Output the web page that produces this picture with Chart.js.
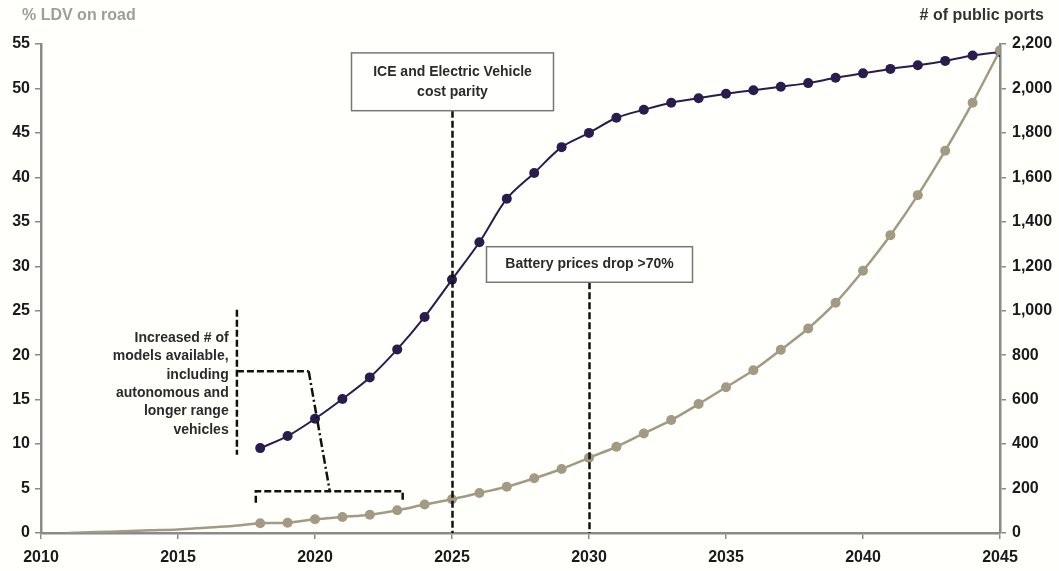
<!DOCTYPE html>
<html>
<head>
<meta charset="utf-8">
<script src="https://cdn.jsdelivr.net/npm/chart.js@4.4.1/dist/chart.umd.min.js"></script>
<style>
  html, body { margin: 0; padding: 0; background: #fffffb; }
  #wrap { position: relative; width: 1059px; height: 571px; }
</style>
</head>
<body>
<div id="wrap"><canvas id="evChart"></canvas></div>
<script>
// EV share of light-duty vehicles on road (%), left axis
const shareYears = [2011, 2012, 2013, 2014, 2015, 2016, 2017, 2018, 2019, 2020, 2021, 2022, 2023, 2024, 2025, 2026, 2027, 2028,
  2029, 2030, 2031, 2032, 2033, 2034, 2035, 2036, 2037, 2038, 2039, 2040, 2041, 2042, 2043, 2044, 2045];
const shareValues = [0, 0.1, 0.2, 0.3, 0.4, 0.6, 0.8, 1.1, 1.15, 1.55, 1.8, 2.05, 2.55, 3.2, 3.8, 4.5, 5.2, 6.15,
  7.2, 8.45, 9.7, 11.2, 12.7, 14.5, 16.4, 18.3, 20.6, 23.0, 25.9, 29.5, 33.5, 38.0, 43.0, 48.4, 54.3];

// public charging ports, right axis
const portYears = [2018, 2019, 2020, 2021, 2022, 2023, 2024, 2025, 2026, 2027, 2028, 2029, 2030, 2031,
  2032, 2033, 2034, 2035, 2036, 2037, 2038, 2039, 2040, 2041, 2042, 2043, 2044, 2045];
const portValues = [382, 436, 514, 603, 700, 826, 972, 1140, 1308, 1504, 1620, 1736, 1800, 1868,
  1904, 1936, 1956, 1976, 1992, 2008, 2024, 2048, 2068, 2088, 2104, 2124, 2148, 2164];

const xTicks = [2010, 2045, 5];
const leftTicks = [0, 55, 5];
const rightTicks = [0, 2200, 200];

const TAN = '#a39a84';
const NAVY = '#2a1c4c';
const AXIS = '#8a8a8a';
const FONT = '"Liberation Sans", Arial, sans-serif';

// annotation boxes / dashed markers (year, left-axis value)
const notes = [
  { year: 2025, top: 54.0, bottom: 47.5, half: 101, lines: ['ICE and Electric Vehicle', 'cost parity'] },
  { year: 2030, top: 32.2, bottom: 28.2, half: 103, lines: ['Battery prices drop >70%'] }
];
const modelText = ['Increased # of', 'models available,', 'including', 'autonomous and', 'longer range', 'vehicles'];

const annotations = {
  id: 'annotations',
  afterDatasetsDraw(chart) {
    const { ctx, scales } = chart;
    const x = scales.x, y = scales.y;
    ctx.save();
    ctx.font = 'bold 14px ' + FONT;
    ctx.textAlign = 'center';
    ctx.textBaseline = 'middle';

    notes.forEach(n => {
      const cx = Math.round(x.getPixelForValue(n.year)) + 0.5;
      const top = y.getPixelForValue(n.top);
      const bot = y.getPixelForValue(n.bottom);
      // dashed drop line
      ctx.strokeStyle = '#111';
      ctx.lineWidth = 2.5;
      ctx.setLineDash([7, 3]);
      ctx.beginPath();
      ctx.moveTo(cx, bot);
      ctx.lineTo(cx, y.getPixelForValue(0));
      ctx.stroke();
      // box
      ctx.setLineDash([]);
      ctx.fillStyle = '#fffffd';
      ctx.strokeStyle = '#777';
      ctx.lineWidth = 1.5;
      ctx.fillRect(cx - n.half, top, n.half * 2, bot - top);
      ctx.strokeRect(cx - n.half, top, n.half * 2, bot - top);
      ctx.fillStyle = '#2b2b2b';
      const mid = (top + bot) / 2;
      const lh = 20;
      n.lines.forEach((t, i) => {
        ctx.fillText(t, cx, mid + (i - (n.lines.length - 1) / 2) * lh);
      });
    });

    // left text block
    ctx.textAlign = 'right';
    ctx.fillStyle = '#2b2b2b';
    const tx = x.getPixelForValue(2016.85);
    const ty = y.getPixelForValue(21.9);
    modelText.forEach((t, i) => ctx.fillText(t, tx, ty + i * 18.3));

    // bracket lines
    const px = (yr) => x.getPixelForValue(yr);
    const py = (v) => y.getPixelForValue(v);
    ctx.strokeStyle = '#111';
    ctx.lineWidth = 2.5;
    ctx.setLineDash([7, 3]);
    ctx.beginPath();
    ctx.moveTo(px(2017.15), py(25.1));
    ctx.lineTo(px(2017.15), py(8.8));
    ctx.moveTo(px(2017.15), py(18.2));
    ctx.lineTo(px(2019.77), py(18.2));
    ctx.stroke();
    ctx.setLineDash([9, 3, 2, 3]);
    ctx.beginPath();
    ctx.moveTo(px(2019.77), py(18.2));
    ctx.lineTo(px(2020.54), py(4.7));
    ctx.stroke();
    ctx.setLineDash([7, 3]);
    ctx.beginPath();
    ctx.moveTo(px(2017.84), py(3.4));
    ctx.lineTo(px(2017.84), py(4.7));
    ctx.lineTo(px(2023.2), py(4.7));
    ctx.lineTo(px(2023.2), py(3.4));
    ctx.stroke();

    // axis titles
    ctx.setLineDash([]);
    ctx.font = 'bold 16px ' + FONT;
    ctx.textAlign = 'left';
    ctx.fillStyle = '#a29c97';
    ctx.fillText('% LDV on road', 22, 16);
    ctx.textAlign = 'right';
    ctx.fillStyle = '#333';
    ctx.fillText('# of public ports', 1044, 16);
    ctx.restore();
  }
};

const tickFont = { family: FONT, size: 16, weight: 'bold' };

new Chart(document.getElementById('evChart'), {
  type: 'line',
  data: {
    datasets: [
      {
        label: '% LDV on road',
        data: shareYears.map((yr, i) => ({ x: yr, y: shareValues[i] })),
        yAxisID: 'y',
        borderColor: TAN,
        backgroundColor: TAN,
        borderWidth: 2.5,
        pointRadius: shareYears.map(yr => (yr < 2018 ? 0 : 5)),
        pointBorderWidth: 0,
        tension: 0.3
      },
      {
        label: '# of public ports',
        data: portYears.map((yr, i) => ({ x: yr, y: portValues[i] })),
        yAxisID: 'y1',
        borderColor: NAVY,
        backgroundColor: NAVY,
        borderWidth: 2,
        pointRadius: 5,
        pointBorderWidth: 0,
        tension: 0.3
      }
    ]
  },
  options: {
    responsive: true,
    maintainAspectRatio: false,
    animation: false,
    layout: { padding: { top: 44, left: 0, right: 0, bottom: 0 } },
    plugins: { legend: { display: false }, tooltip: { enabled: false } },
    scales: {
      x: {
        type: 'linear',
        min: xTicks[0], max: xTicks[1],
        afterFit: s => { s.height = 38; },
        ticks: { stepSize: xTicks[2], color: '#1a1a1a', font: tickFont, padding: 9, maxRotation: 0,
          callback: v => String(v) },
        grid: { drawOnChartArea: false, drawTicks: true, tickLength: 6, color: AXIS, lineWidth: 1.5 },
        border: { color: AXIS, width: 2.5 }
      },
      y: {
        position: 'left',
        min: leftTicks[0], max: leftTicks[1],
        afterFit: s => { s.width = 41; },
        ticks: { stepSize: leftTicks[2], color: '#1a1a1a', font: tickFont, padding: 5 },
        grid: { drawOnChartArea: false, drawTicks: true, tickLength: 6, color: AXIS, lineWidth: 1.5 },
        border: { color: AXIS, width: 2.5 }
      },
      y1: {
        position: 'right',
        min: rightTicks[0], max: rightTicks[1],
        afterFit: s => { s.width = 59; },
        ticks: { stepSize: rightTicks[2], color: '#1a1a1a', font: tickFont, padding: 6,
          callback: v => v.toLocaleString('en-US') },
        grid: { drawOnChartArea: false, drawTicks: true, tickLength: 6, color: AXIS, lineWidth: 1.5 },
        border: { color: AXIS, width: 2.5 }
      }
    }
  },
  plugins: [annotations]
});
</script>
</body>
</html>
